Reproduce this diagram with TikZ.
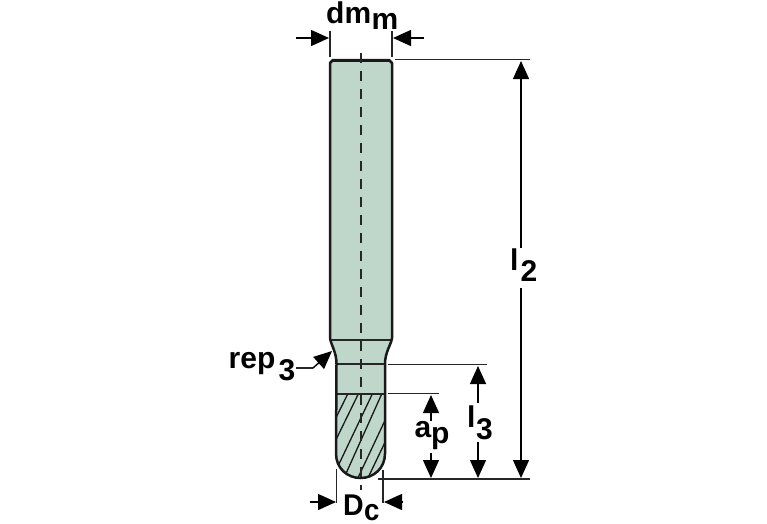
\documentclass[tikz,border=0pt]{standalone}
\usepackage{fontspec}
\setmainfont{Liberation Sans}
\usetikzlibrary{arrows.meta}
\definecolor{tool}{HTML}{BFD6CA}
\tikzset{
 x=1pt,y=-1pt,
 dim/.style={line width=1.3pt,black!85},
 ah/.style={-{Triangle[length=18pt,width=16pt]},line width=1.4pt,black},
 outline/.style={line width=2.5pt,line join=round,black!90},
 inner/.style={line width=2pt,black!85},
 hatch/.style={line width=1.3pt,black!90},
 lab/.style={inner sep=0pt,font=\bfseries\fontsize{30}{30}\selectfont},
}
\begin{document}
\begin{tikzpicture}
\useasboundingbox (0,0) rectangle (767,523);
% body
\def\toolpath{(333,60) -- (389,60) -- (392,63) -- (392,338) .. controls (391,345) and (385,352) .. (385,364) -- (385,453.5) .. controls (385,468) and (374,478) .. (360.5,478) .. controls (347,478) and (336,468) .. (336,453.5) -- (336.5,364) .. controls (336.5,352) and (331,345) .. (330,338) -- (330,63) -- cycle}
\fill[tool] \toolpath;
\begin{scope}
\clip (330,393.5) rectangle (392,480);
\clip \toolpath;
\draw[hatch] (347.7,394) -- (328,434);
\draw[hatch] (358.3,394) -- (328,456);
\draw[hatch] (372.3,394) -- (339,464);
\draw[hatch] (381.7,394) -- (344,478);
\draw[hatch] (388,414) -- (356,482);
\draw[hatch] (388,436) -- (366,482);
\end{scope}
\draw[inner] (331,340) -- (391,340);
\draw[inner] (337,364) -- (385,364);
\draw[inner] (336,394) -- (385,394);
\draw[line width=2.5pt,black!90] (331,61) -- (391,61);
\draw[outline] \toolpath;
% centre line
\coordinate (ct) at (361,53);
\coordinate (cb) at (361,490);
\draw[line width=1.3pt,dash pattern=on 10pt off 8pt,black!85] (ct) -- (cb);
% extension lines
\coordinate (e1a) at (330,31); \coordinate (e1b) at (330,57);
\coordinate (e2a) at (392,31); \coordinate (e2b) at (392,57);
\draw[dim] (e1a) -- (e1b); \draw[dim] (e2a) -- (e2b);
\coordinate (t1) at (395,59.5); \coordinate (t2) at (530,59.5);
\draw[dim] (t1) -- (t2);
\coordinate (m1) at (388,364.5); \coordinate (m2) at (487,364.5);
\draw[dim] (m1) -- (m2);
\coordinate (f1) at (388,393.5); \coordinate (f2) at (439,393.5);
\draw[dim] (f1) -- (f2);
\coordinate (b1) at (378,479); \coordinate (b2) at (530,479);
\draw[dim] (b1) -- (b2);
\coordinate (d1a) at (336.5,469); \coordinate (d1b) at (336.5,503);
\coordinate (d2a) at (383,470); \coordinate (d2b) at (383,503);
\draw[dim] (d1a) -- (d1b); \draw[dim] (d2a) -- (d2b);
% labels
\node[lab,anchor=base west] (dm) at (326,23) {dm};
\node[lab,anchor=base west] (dmsub) at (371.5,29) {m};
\node[lab,anchor=base west] (l2) at (510,270) {l};
\node[lab,anchor=base west] (l2sub) at (520.5,281) {2};
\node[lab,anchor=base west] (l3) at (467,427) {l};
\node[lab,anchor=base west] (l3sub) at (476,439) {3};
\node[lab,anchor=base west] (ap) at (414.5,437) {a};
\node[lab,anchor=base west] (apsub) at (431,443) {p};
\node[lab,anchor=base west] (rep) at (228.5,368) {rep};
\node[lab,anchor=base west] (repsub) at (278.5,380.5) {3};
\node[lab,anchor=base west] (Dc) at (343,515) {\scalebox{.95}[1]{D}};
\node[lab,anchor=base west] (Dcsub) at (364,520) {\scalebox{.92}[1]{c}};
% arrows
\coordinate (a1) at (296,38); \coordinate (a2) at (329,38);
\draw[ah] (a1) -- (a2);
\coordinate (a3) at (424,38); \coordinate (a4) at (393,38);
\draw[ah] (a3) -- (a4);
\coordinate (v1) at (521,248); \coordinate (v2) at (521,61);
\draw[ah] (v1) -- (v2);
\coordinate (v3) at (521,288); \coordinate (v4) at (521,478);
\draw[ah] (v3) -- (v4);
\coordinate (l1) at (478,403); \coordinate (l4) at (478,366);
\draw[ah] (l1) -- (l4);
\coordinate (l5) at (478,442); \coordinate (l6) at (478,478);
\draw[ah] (l5) -- (l6);
\coordinate (p1) at (431,421); \coordinate (p2) at (431,395);
\draw[ah] (p1) -- (p2);
\coordinate (p3) at (431,453); \coordinate (p4) at (431,478);
\draw[ah] (p3) -- (p4);
\coordinate (c1) at (310,502); \coordinate (c2) at (336,502);
\draw[ah] (c1) -- (c2);
\coordinate (c3) at (403,502); \coordinate (c4) at (384,502);
\draw[ah] (c3) -- (c4);
\coordinate (r1) at (296,368); \coordinate (r2) at (313,368); \coordinate (r3) at (332,351);
\draw[dim] (r1) -- (r2);
\draw[ah] (r2) -- (r3);
\end{tikzpicture}
\end{document}
